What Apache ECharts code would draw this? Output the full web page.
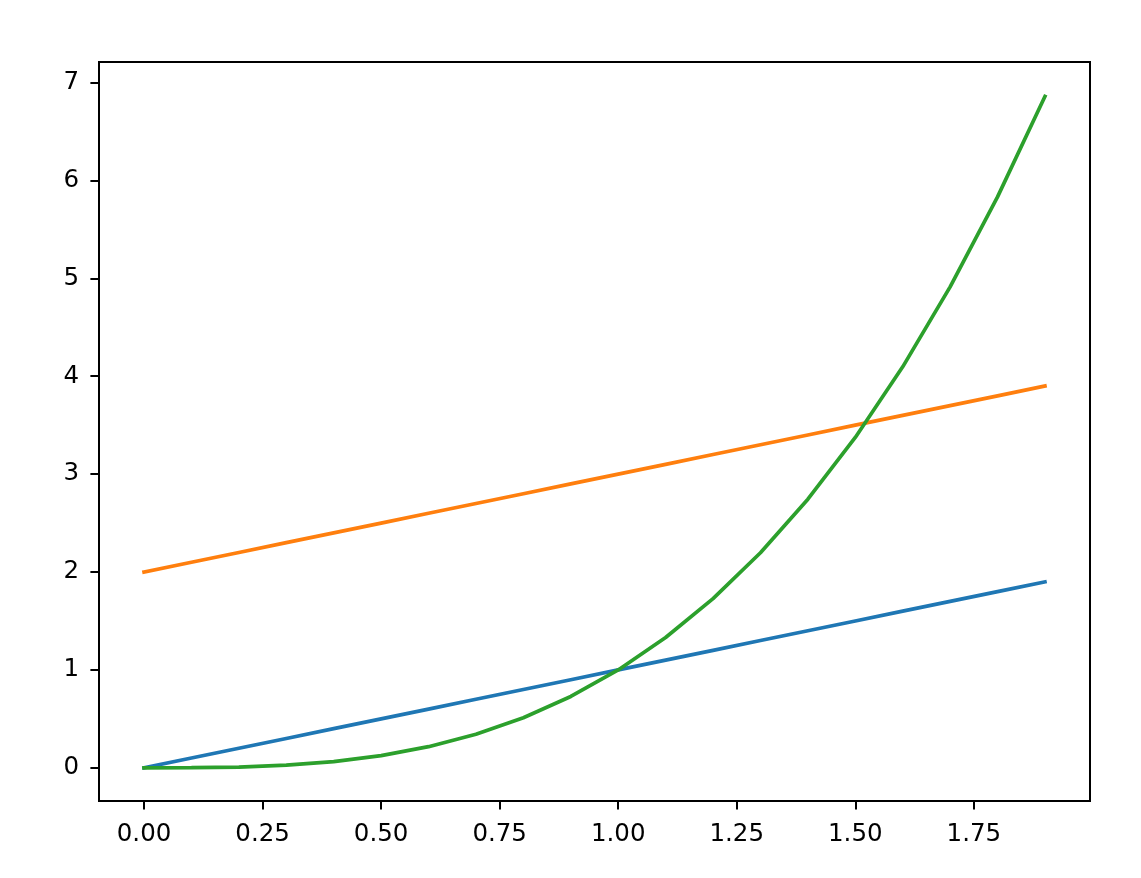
<!DOCTYPE html>
<html>
<head>
<meta charset="utf-8">
<script src="https://cdn.jsdelivr.net/npm/echarts@6/dist/echarts.min.js"></script>
<style>html,body{margin:0;padding:0;background:#fff}#c{width:1141px;height:878px}</style>
</head>
<body>
<div id="c"></div>
<script>
const xValues = [0.0,0.1,0.2,0.3,0.4,0.5,0.6,0.7,0.8,0.9,1.0,1.1,1.2,1.3,1.4,1.5,1.6,1.7,1.8,1.9];
const blueValues = [0.0,0.1,0.2,0.3,0.4,0.5,0.6,0.7,0.8,0.9,1.0,1.1,1.2,1.3,1.4,1.5,1.6,1.7,1.8,1.9];
const orangeValues = [2.0,2.1,2.2,2.3,2.4,2.5,2.6,2.7,2.8,2.9,3.0,3.1,3.2,3.3,3.4,3.5,3.6,3.7,3.8,3.9];
const greenValues = [0.0,0.001,0.008,0.027,0.064,0.125,0.216,0.343,0.512,0.729,1.0,1.331,1.728,2.197,2.744,3.375,4.096,4.913,5.832,6.859];
const xTicks = [0,0.25,0.5,0.75,1.0,1.25,1.5,1.75];
const yTicks = [0,1,2,3,4,5,6,7];

const chart = echarts.init(document.getElementById('c'), null, {renderer:'canvas'});
const pair = (xs, ys) => xs.map((x,i)=>[x, ys[i]]);
const font = {fontFamily:'DejaVu Sans', fontSize:24.5, color:'#000'};
chart.setOption({
  animation:false,
  backgroundColor:'#fff',
  grid:{left:99, right:51, top:62, bottom:77, show:true, borderColor:'#000', borderWidth:2, backgroundColor:'transparent', containLabel:false},
  xAxis:{
    type:'value', min:-0.095, max:1.995,
    axisLine:{show:false, onZero:false},
    splitLine:{show:false},
    axisTick:{show:true, inside:false, length:8.6, lineStyle:{color:'#000', width:2}, customValues:xTicks},
    axisLabel:Object.assign({margin:21, customValues:xTicks, formatter:v=>Number(v).toFixed(2)}, font)
  },
  yAxis:{
    type:'value', min:-0.339, max:7.21,
    axisLine:{show:false, onZero:false},
    splitLine:{show:false},
    axisTick:{show:true, inside:false, length:8.6, lineStyle:{color:'#000', width:2}, customValues:yTicks},
    axisLabel:Object.assign({margin:20, customValues:yTicks, formatter:v=>String(Math.round(v))}, font)
  },
  series:[
    {type:'line', data:pair(xValues, blueValues), symbol:'none', lineStyle:{color:'#1f77b4', width:3.7, cap:'square'}, itemStyle:{color:'#1f77b4'}},
    {type:'line', data:pair(xValues, orangeValues), symbol:'none', lineStyle:{color:'#ff7f0e', width:3.7, cap:'square'}, itemStyle:{color:'#ff7f0e'}},
    {type:'line', data:pair(xValues, greenValues), symbol:'none', lineStyle:{color:'#2ca02c', width:3.7, cap:'square'}, itemStyle:{color:'#2ca02c'}}
  ]
});
</script>
</body>
</html>
